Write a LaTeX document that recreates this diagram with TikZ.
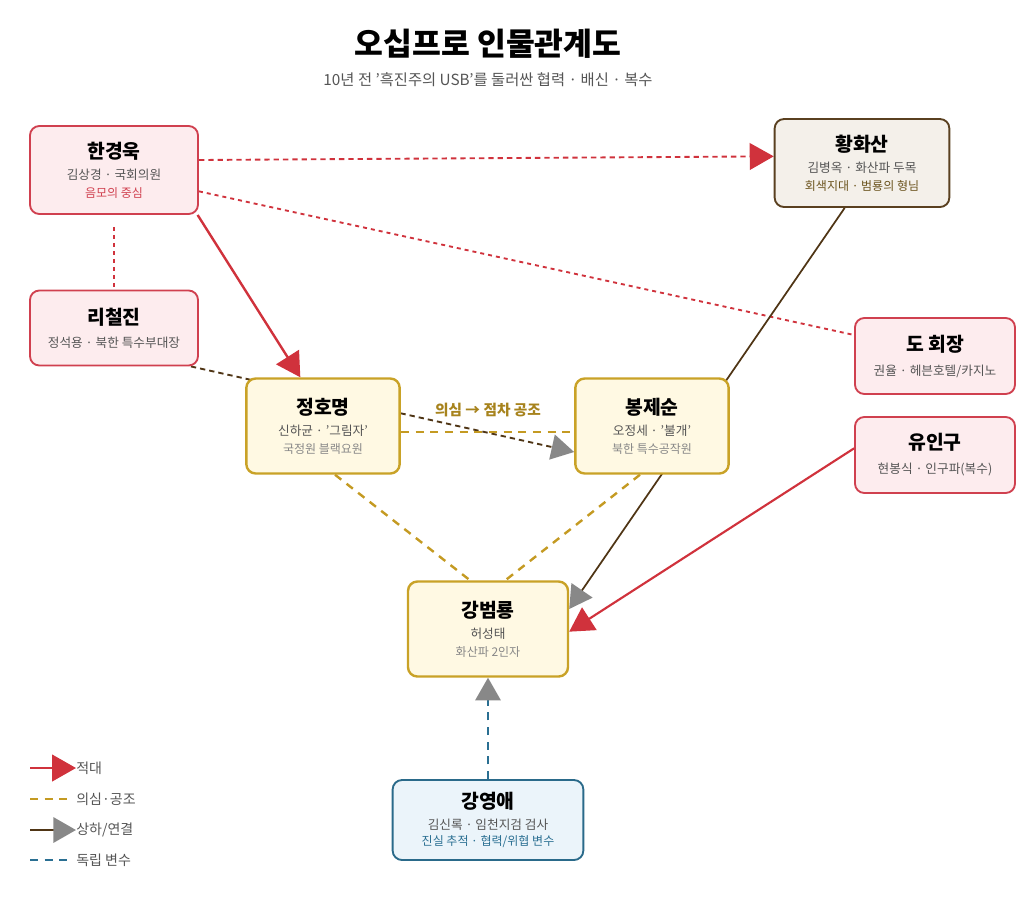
\documentclass[tikz,border=0pt]{standalone}
\usepackage{fontspec}
\setmainfont{Noto Sans CJK KR}
\usetikzlibrary{arrows.meta,backgrounds}
\definecolor{redB}{HTML}{D0404F}\definecolor{redF}{HTML}{FDECEE}
\definecolor{goldB}{HTML}{C9A227}\definecolor{goldF}{HTML}{FFF9E3}
\definecolor{brB}{HTML}{5A4020}\definecolor{brF}{HTML}{F4F0EA}
\definecolor{blB}{HTML}{2A6A8A}\definecolor{blF}{HTML}{EBF4FA}
\definecolor{lineR}{HTML}{D0323C}\definecolor{lineG}{HTML}{C49A22}
\definecolor{lineBr}{HTML}{4F3515}\definecolor{lineBl}{HTML}{2A6F92}
\definecolor{tipG}{HTML}{888888}\definecolor{subG}{HTML}{555555}\definecolor{thG}{HTML}{888888}
\newcommand{\nmf}{\fontsize{14.5}{17}\selectfont\bfseries}
\newcommand{\sbf}{\fontsize{9.5}{12}\selectfont\color{subG}}
\newcommand{\thf}{\fontsize{9}{12}\selectfont}
\begin{document}
\begin{tikzpicture}[x=0.75pt,y=-0.75pt,
  box/.style={rounded corners=7pt,line width=1.4pt,align=center,inner sep=0pt,minimum height=#1*0.75pt},
  rb/.style={box=88,draw=redB,fill=redF},
  gb/.style={box=95,draw=goldB,fill=goldF,line width=1.8pt},
  tipR/.style={-{Triangle[length=18pt,width=20pt,fill=lineR,color=lineR]}},
  tipGr/.style={-{Triangle[length=17pt,width=19pt,fill=tipG,color=tipG]}},
  redS/.style={draw=lineR,line width=1.8pt},
  redD/.style={draw=lineR,line width=1.4pt,dash pattern=on 4pt off 3pt},
  goldD/.style={draw=lineG,line width=1.8pt,dash pattern=on 6pt off 5pt},
  brS/.style={draw=lineBr,line width=1.3pt},
  brD/.style={draw=lineBr,line width=1.4pt,dash pattern=on 4pt off 3pt},
  blD/.style={draw=lineBl,line width=1.6pt,dash pattern=on 6pt off 5pt},
  leg/.style={anchor=west,inner sep=0pt,font=\fontsize{10.5}{12}\selectfont\color{subG}}]
\useasboundingbox (0,0) rectangle (1024,904);
\node (title) at (488,44) {\fontsize{23.5}{26}\selectfont\bfseries 오십프로 인물관계도};
\node (sub) at (488,80) {\fontsize{11.5}{13}\selectfont\color{subG}10년 전 '흑진주의 USB'를 둘러싼 협력 · 배신 · 복수};

\node[rb,minimum width=126pt] (hg) at (114,170) {{\nmf 한경욱}\\[4pt]{\sbf 김상경 · 국회의원}\\[1pt]{\thf\color{redB}음모의 중심}};
\node[box=88,draw=brB,fill=brF,minimum width=131pt] (hw) at (862,163) {{\nmf 황화산}\\[4pt]{\sbf 김병옥 · 화산파 두목}\\[1pt]{\thf\color{brB!90!yellow}회색지대 · 범룡의 형님}};
\node[rb,box=75,minimum width=126pt] (lc) at (114,328) {{\nmf 리철진}\\[5pt]{\sbf 정석용 · 북한 특수부대장}};
\node[gb,minimum width=115pt] (hm) at (323,426) {{\nmf 정호명}\\[4pt]{\sbf 신하균 · '그림자'}\\[1pt]{\thf\color{thG}국정원 블랙요원}};
\node[gb,minimum width=115pt] (bj) at (652,426) {{\nmf 봉제순}\\[4pt]{\sbf 오정세 · '불개'}\\[1pt]{\thf\color{thG}북한 특수공작원}};
\node[rb,box=76,minimum width=120pt] (dh) at (935,356) {{\nmf 도 회장}\\[6pt]{\sbf 권율 · 헤븐호텔/카지노}};
\node[rb,box=76,minimum width=120pt] (yi) at (935,455) {{\nmf 유인구}\\[6pt]{\sbf 현봉식 · 인구파(복수)}};
\node[gb,minimum width=120pt] (kb) at (488,629) {{\nmf 강범룡}\\[4pt]{\sbf 허성태}\\[1pt]{\thf\color{thG}화산파 2인자}};
\node[box=80,draw=blB,fill=blF,minimum width=143pt] (ky) at (488,820) {{\nmf 강영애}\\[4pt]{\sbf 김신록 · 임천지검 검사}\\[0pt]{\thf\color{lineBl}진실 추적 · 협력/위협 변수}};

\node[font=\fontsize{11}{12}\selectfont\bfseries,text=lineG!85!black] (lab) at (488,410) {의심 → 점차 공조};

\begin{scope}[on background layer]
\draw[redD,tipR] ([yshift=7.5pt]hg.east) -- ([yshift=5pt]hw.west);
\draw[redD,dash pattern=on 3pt off 3pt] ([yshift=-16pt]hg.east) -- ([yshift=15.75pt]dh.west);
\draw[redD,dash pattern=on 3pt off 3pt] ([yshift=-9pt]hg.south) -- ([yshift=2pt]lc.north);
\draw[redS,tipR] ([xshift=-1pt]hg.south east) -- ([xshift=-17pt]hm.north);
\draw[brD,tipGr] ([xshift=-6pt]lc.south east) -- ([yshift=-19.5pt]bj.west);
\draw[goldD] ([yshift=-4.5pt]hm.east) -- ([yshift=-4.5pt]bj.west);
\draw[goldD] ([xshift=9pt]hm.south) -- ([xshift=-13.5pt]kb.north);
\draw[goldD] ([xshift=-9pt]bj.south) -- ([xshift=13pt]kb.north);
\draw[brS,tipGr] ([xshift=-13pt]hw.south) -- ([yshift=15pt]kb.east);
\draw[redS,line width=1.6pt,tipR] ([yshift=5pt]yi.west) -- ([yshift=-2pt]kb.east);
\draw[blD,tipGr] (ky.north) -- (kb.south);
\end{scope}

\node[leg] (l1) at (76,768) {적대};
\node[leg] (l2) at (76,799) {의심·공조};
\node[leg] (l3) at (76,830) {상하/연결};
\node[leg] (l4) at (76,860) {독립 변수};
\coordinate (s1) at (30,768);\coordinate (s2) at (30,799);\coordinate (s3) at (30,830);\coordinate (s4) at (30,860);
\draw[redS,tipR] (s1) -- (l1.west);
\draw[goldD] (s2) -- ([xshift=-4pt]l2.west);
\draw[brS,line width=1.8pt,tipGr] (s3) -- (l3.west);
\draw[blD] (s4) -- ([xshift=-4pt]l4.west);
\end{tikzpicture}
\end{document}
